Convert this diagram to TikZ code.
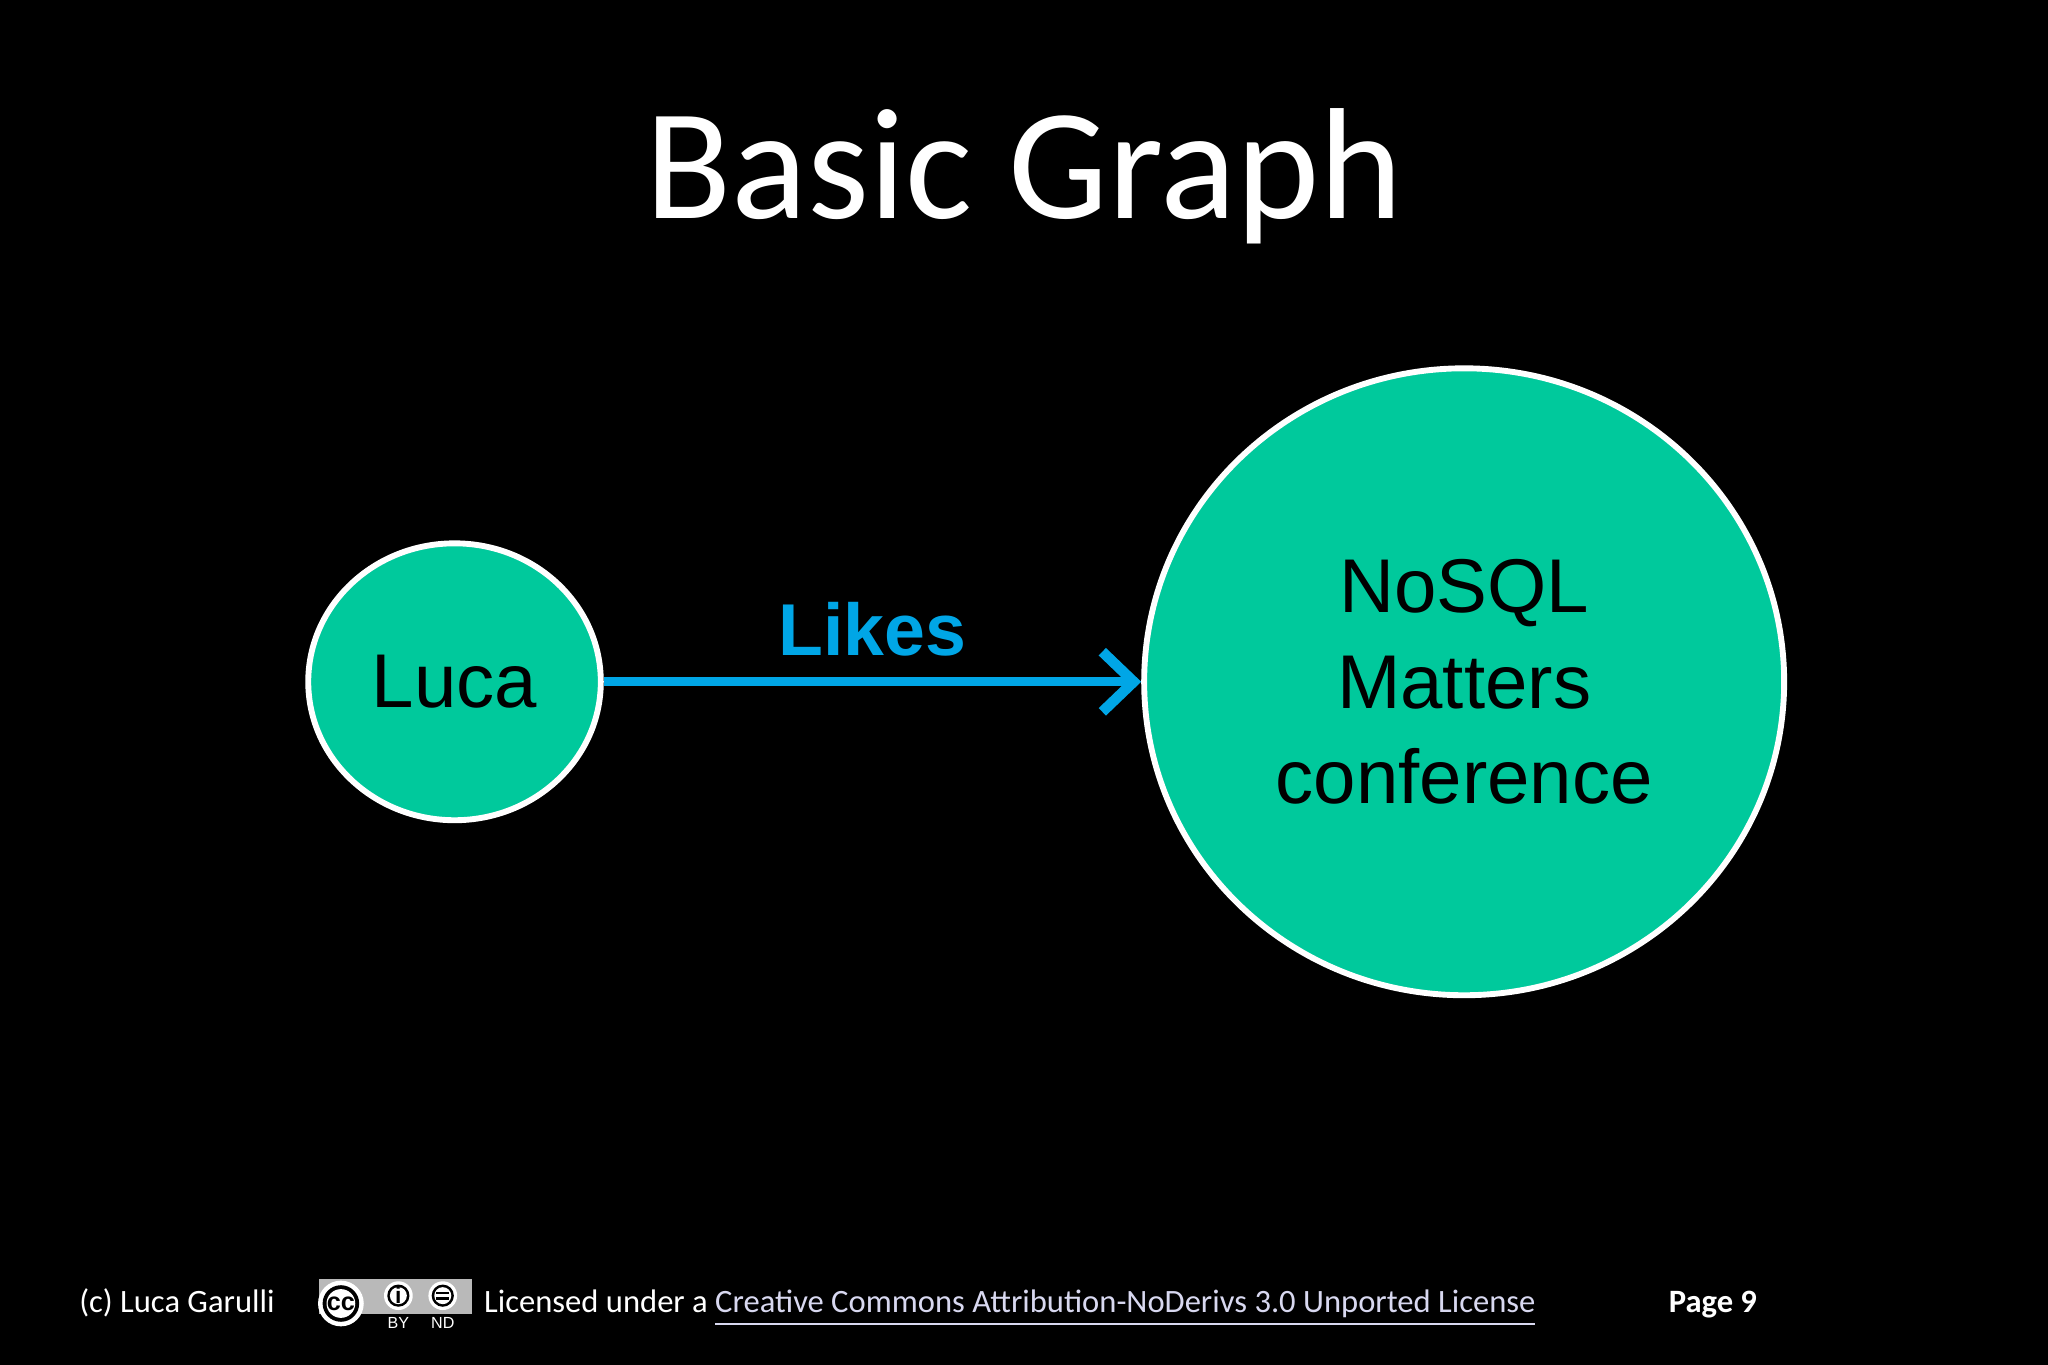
\documentclass[tikz,border=0pt]{standalone}
\usepackage{fontspec}
\setmainfont{Carlito}
\newfontfamily\arial{Liberation Sans}
\usetikzlibrary{arrows.meta,shapes.geometric}
\definecolor{nodegreen}{HTML}{00C99C}
\definecolor{edgeblue}{HTML}{00A6E6}
\definecolor{linkc}{HTML}{D8D8F0}
\begin{document}
\begin{tikzpicture}[x=0.1mm,y=-0.1mm,
  vnode/.style={ellipse,draw=white,line width=0.45mm,fill=nodegreen,inner sep=0pt,font=\arial\fontsize{16.6}{20}\selectfont,align=center,text=black},
  foot/.style={text=white,font=\fontsize{7.1}{9}\selectfont,inner sep=0pt,anchor=base west}]
\fill[black] (0,0) rectangle (1568,1045);
\useasboundingbox (0,0) rectangle (1568,1045);
\node[text=white,font=\fontsize{34.5}{40}\selectfont] (title) at (784,135) {Basic Graph};
\node[vnode,minimum width=22.4mm,minimum height=21.2mm] (luca) at (348,522) {Luca};
\node[vnode,minimum width=49mm,minimum height=48mm] (nosql) at (1121,522) {NoSQL\\[0.3mm]Matters\\[0.3mm]conference};
\draw[edgeblue,line width=0.7mm,-{Straight Barb[length=2.4mm,width=4.6mm,line width=0.8mm]}] (luca) -- (nosql) node[midway,above=0.4mm,font=\arial\bfseries\fontsize{16}{19}\selectfont] (likes) {Likes};
% footer
\node[foot] (copy) at (60,1005) {(c) Luca Garulli};
% CC badge
\fill[gray!55] (244,979) rectangle (361,1006);
\fill[white] (261,998) circle (17.5);
\fill[black] (261,998) circle (14);
\fill[white] (261,998) circle (11);
\node[font=\arial\bfseries\fontsize{5.5}{6}\selectfont,inner sep=0pt] (cc) at (261,998) {cc};
\fill[white] (305,992) circle (11);
\fill[black] (305,992) circle (8.5);
\fill[white] (305,992) circle (6.5);
\node[font=\arial\bfseries\fontsize{5}{6}\selectfont,inner sep=0pt] (by) at (305,992) {i};
\fill[white] (339,992) circle (11);
\fill[black] (339,992) circle (8.5);
\fill[white] (339,992) circle (6.5);
\fill[black] (334,989) rectangle (344,991); \fill[black] (334,993) rectangle (344,995);
\node[text=white,font=\arial\fontsize{3.5}{4}\selectfont,inner sep=0pt] (byl) at (305,1013) {BY};
\node[text=white,font=\arial\fontsize{3.5}{4}\selectfont,inner sep=0pt] (ndl) at (339,1013) {ND};
\node[foot] (lic) at (370,1005) {Licensed under a \textcolor{linkc}{\underline{Creative Commons Attribution-NoDerivs 3.0 Unported License}}};
\node[foot,font=\bfseries\fontsize{7.1}{9}\selectfont] (page) at (1277,1005) {Page 9};
\end{tikzpicture}
\end{document}
